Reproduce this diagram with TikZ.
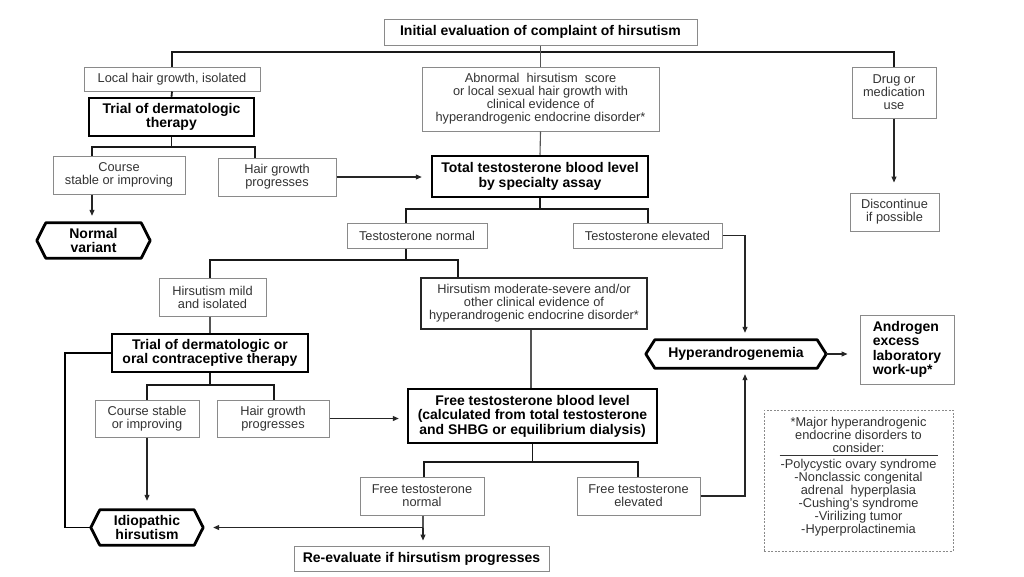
\documentclass[tikz,border=0pt]{standalone}
\usepackage{fontspec}
\setmainfont{Liberation Sans}
\usetikzlibrary{arrows.meta,calc}
\definecolor{boxgray}{HTML}{8A8A8A}
\definecolor{txtgray}{HTML}{333333}
\definecolor{linegray}{HTML}{555555}
\newcommand\regf{\fontsize{12.8}{13}\selectfont}
\newcommand\bldf{\fontsize{14}{14.5}\selectfont\bfseries}
\newcommand\hexdraw[2]{\draw[hexline] (#1.west) -- ([xshift=#2]#1.north west) -- ([xshift=-#2]#1.north east) -- (#1.east) -- ([xshift=-#2]#1.south east) -- ([xshift=#2]#1.south west) -- cycle;}
\begin{document}
\begin{tikzpicture}[x=1pt,y=-1pt,
  sz/.style 2 args={minimum width=#1, minimum height=#2},
  box/.style={draw=boxgray, line width=1pt, fill=white, inner sep=0pt, align=center, font=\regf, text=txtgray},
  bbox/.style={box, font=\bldf, text=black},
  thickbox/.style={box, draw=black, line width=2.5pt, font=\bldf, text=black},
  medbox/.style={box, draw=black!85, line width=2pt},
  hexnode/.style={inner sep=0pt, align=center, font=\bldf, text=black},
  hexline/.style={draw=black, line width=2.8pt, line join=round},
  conn/.style={draw=linegray, line width=1.1pt},
  bus/.style={draw=black!90, line width=1.8pt},
  loopline/.style={draw=black, line width=1.6pt},
  arr/.style={draw=black!85, line width=1.1pt, -{Triangle[length=6pt,width=5pt]}},
  notebox/.style={draw=boxgray, line width=0.8pt, dash pattern=on 2pt off 1.5pt, inner xsep=9.5pt, inner ysep=7pt, font=\regf, text=txtgray}
]
\useasboundingbox[fill=white] (0,0) rectangle (1024,576);

% nodes
\node[bbox, sz={313pt}{26pt}] (init) at (540.5,32) {Initial evaluation of complaint of hirsutism};
\node[box, sz={176pt}{24pt}] (local) at (172,79) {Local hair growth, isolated};
\node[thickbox, sz={165pt}{38pt}] (trial1) at (171.5,117) {Trial of dermatologic\\therapy};
\node[box, sz={132pt}{38pt}] (course1) at (119,175) {Course\\stable or improving};
\node[box, sz={118pt}{38pt}] (hairp1) at (277,177) {Hair growth\\progresses};
\node[hexnode, sz={113pt}{35pt}] (normal) at (93.5,240.5) {Normal\\variant};
\hexdraw{normal}{9pt}
\node[box, sz={237pt}{64pt}] (abnormal) at (540.5,99) {Abnormal\ \ hirsutism\ \ score\\or local sexual hair growth with\\clinical evidence of\\hyperandrogenic endocrine disorder*};
\node[thickbox, sz={216pt}{41pt}] (total) at (540,176.5) {Total testosterone blood level\\by specialty assay};
\node[box, sz={140pt}{25pt}] (tnormal) at (417,235.5) {Testosterone normal};
\node[box, sz={149pt}{25pt}] (televated) at (647.5,235.5) {Testosterone elevated};
\node[box, sz={84pt}{51pt}] (drug) at (894,92.5) {Drug or\\medication\\use};
\node[box, sz={89pt}{38pt}] (discont) at (894.5,212) {Discontinue\\if possible};
\node[box, sz={107pt}{38pt}] (mild) at (212.5,297) {Hirsutism mild\\and isolated};
\node[medbox, sz={226pt}{51pt}] (moderate) at (534,303.5) {Hirsutism moderate-severe and/or\\other clinical evidence of\\hyperandrogenic endocrine disorder*};
\node[thickbox, sz={196pt}{38pt}] (trial2) at (210,353) {Trial of dermatologic or\\oral contraceptive therapy};
\node[box, sz={104pt}{37pt}] (course2) at (147,418.5) {Course stable\\or improving};
\node[box, sz={112pt}{37pt}] (hairp2) at (273,418.5) {Hair growth\\progresses};
\node[thickbox, sz={249pt}{54pt}] (free) at (532.5,416) {Free testosterone blood level\\(calculated from total testosterone\\and SHBG or equilibrium dialysis)};
\node[box, sz={124pt}{38pt}] (fnormal) at (422,496) {Free testosterone\\normal};
\node[box, sz={123pt}{38pt}] (felevated) at (638.5,496) {Free testosterone\\elevated};
\node[hexnode, sz={112pt}{35pt}] (idio) at (147,527.5) {Idiopathic\\hirsutism};
\hexdraw{idio}{9pt}
\node[bbox, sz={255pt}{25pt}] (reeval) at (421.5,558.5) {Re-evaluate if hirsutism progresses};
\node[hexnode, sz={180pt}{28pt}] (hyper) at (736,354) {Hyperandrogenemia};
\hexdraw{hyper}{9pt}
\node[bbox, sz={94pt}{69pt}, align=left] (androgen) at (907,349.5) {Androgen\\excess\\laboratory\\work-up*};
\node[notebox] (note) at (858.5,480.5) {\begin{minipage}[c][127pt][t]{170pt}\centering
*Major hyperandrogenic\\endocrine disorders to\\consider:\\[-9pt]\rule{158pt}{1.3pt}\\[-1pt]-Polycystic ovary syndrome\\-Nonclassic congenital\\adrenal\ \ hyperplasia\\-Cushing's syndrome\\-Virilizing tumor\\-Hyperprolactinemia\end{minipage}};

% connectors
\coordinate (b1) at (541,52);
\draw[bus] (local.north) |- (b1) -| (drug.north);
\draw[conn] (init.south) -- (abnormal.north);
\draw[bus] (local.south) -- (trial1.north);
\coordinate (b2l) at (92,147);
\coordinate (b2r) at (255,147);
\draw[bus] (trial1.south) -- (trial1.south |- b2l);
\draw[bus] (course1.north -| b2l) -- (b2l) -- (b2r) -- (hairp1.north -| b2r);
\draw[arr, shorten >=7pt] (course1.south -| b2l) -- (normal.north -| b2l);
\draw[arr, shorten >=9pt] (hairp1.east) -- (hairp1.east -| total.west);
\draw[conn] (abnormal.south) -- (total.north);
\coordinate (b3l) at (406,209);
\coordinate (b3r) at (648,209);
\draw[bus] (total.south) -- (total.south |- b3l);
\draw[bus] (tnormal.north -| b3l) -- (b3l) -- (b3r) -- (televated.north -| b3r);
\coordinate (te) at (745,232);
\draw[arr, shorten >=7pt] (televated.east) -| (hyper.north -| te);
\coordinate (b4l) at (210,260);
\coordinate (b4r) at (458,260);
\draw[bus] (b3l |- tnormal.south) -- (b3l |- b4l);
\draw[bus] (mild.north -| b4l) -- (b4l) -- (b4r) -- (moderate.north -| b4r);
\draw[conn] (mild.south -| b4l) -- (trial2.north -| b4l);
\coordinate (b5l) at (147,385);
\coordinate (b5r) at (274,385);
\draw[bus] (trial2.south) -- (trial2.south |- b5l);
\draw[bus] (course2.north -| b5l) -- (b5l) -- (b5r) -- (hairp2.north -| b5r);
\coordinate (lp) at (65,353);
\draw[loopline] (trial2.west) -- (lp) |- (idio.west);
\draw[arr, shorten >=9pt] (course2.south) -- (idio.north);
\draw[arr, shorten >=8pt] (hairp2.east) -- (hairp2.east -| free.west);
\coordinate (mf) at (531,0);
\draw[conn] (moderate.south -| mf) -- (free.north -| mf);
\coordinate (b6l) at (424,462);
\coordinate (b6r) at (638,462);
\draw[bus] (free.south) -- (free.south |- b6l);
\draw[bus] (fnormal.north -| b6l) -- (b6l) -- (b6r) -- (felevated.north -| b6r);
\coordinate (fn) at (423,527.5);
\draw[conn] (fnormal.south -| fn) -- (fn);
\draw[arr, shorten >=10pt] (fn) -- (idio.east);
\draw[arr, shorten >=5pt] (fn) -- (reeval.north -| fn);
\draw[arr, shorten >=6pt] (felevated.east) -| (hyper.south -| te);
\draw[arr, shorten >=12pt] (hyper.east) -- (hyper.east -| androgen.west);
\draw[arr, shorten >=10pt] (drug.south) -- (drug.south |- discont.north);
\end{tikzpicture}
\end{document}
